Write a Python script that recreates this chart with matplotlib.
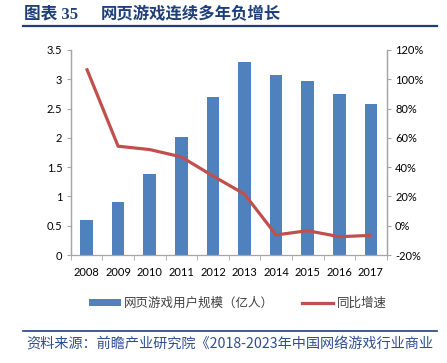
import matplotlib
matplotlib.use("Agg")
import matplotlib.pyplot as plt
import numpy as np
from matplotlib.lines import Line2D
from matplotlib.patches import Patch

years = ["2008", "2009", "2010", "2011", "2012", "2013", "2014", "2015", "2016", "2017"]
users = [0.59, 0.90, 1.38, 2.02, 2.70, 3.29, 3.07, 2.97, 2.75, 2.57]
growth = [107.5, 54.3, 52.0, 47.0, 34.0, 21.6, -6.3, -3.4, -7.5, -6.6]
left_ticks = [0, 0.5, 1, 1.5, 2, 2.5, 3, 3.5]
left_labels = ["0", "0.5", "1", "1.5", "2", "2.5", "3", "3.5"]
right_ticks = [-20, 0, 20, 40, 60, 80, 100, 120]
right_labels = ["-20%", "0%", "20%", "40%", "60%", "80%", "100%", "120%"]
title_num = "图表 35"
title_text = "网页游戏连续多年负增长"
legend_bar = "网页游戏用户规模（亿人）"
legend_line = "同比增速"
source = "资料来源：前瞻产业研究院《2018-2023年中国网络游戏行业商业"

CJK = ["Noto Sans CJK SC", "DejaVu Sans"]
tick_font = ["Lato", "DejaVu Sans"]
bar_color = "#4F81BD"
line_color = "#C0504D"
axis_color = "#A6A6A6"
navy = "#1F3F7A"

W, H = 447, 363
fig = plt.figure(figsize=(W / 100, H / 100), dpi=100)
ax = fig.add_axes([70.7 / W, 1 - 255 / H, (386.7 - 70.7) / W, (255 - 50) / H])
ax2 = ax.twinx()

x = np.arange(len(years))
ax.bar(x, users, width=0.4, color=bar_color, zorder=2)
ax.set_xlim(-0.5, len(years) - 0.5)
ax.set_ylim(0, 3.5)
ax.set_yticks(left_ticks)
ax.set_yticklabels(left_labels, fontfamily=tick_font, fontsize=8)
ax.set_xticks(x)
ax.set_xticklabels(years, fontfamily=tick_font, fontsize=8)
ax.set_xticks(np.arange(len(years) + 1) - 0.5, minor=True)
ax.tick_params(axis="x", which="major", length=0, pad=9)
ax.tick_params(axis="x", which="minor", length=3.5, color=axis_color, direction="out")
ax.tick_params(axis="y", length=3, color=axis_color, pad=3)

ax2.plot(x, growth, color=line_color, lw=2.3, zorder=3, solid_capstyle="butt")
ax2.set_ylim(-20, 120)
ax2.set_yticks(right_ticks)
ax2.set_yticklabels(right_labels, fontfamily=tick_font, fontsize=8)
ax2.tick_params(axis="y", length=3, color=axis_color, pad=3)

for a in (ax, ax2):
    a.spines["top"].set_visible(False)
    for s in ("left", "right", "bottom"):
        a.spines[s].set_color(axis_color)
        a.spines[s].set_linewidth(0.9)
    a.patch.set_visible(False)
ax2.spines["bottom"].set_visible(False)

# Title and rules
fig.text(24 / W, 1 - 14 / H, title_num, fontfamily=["Liberation Serif", "Noto Sans CJK SC"],
         fontweight="bold", fontsize=12, color=navy, va="center", ha="left")
fig.text(101 / W, 1 - 14 / H, title_text, fontfamily=CJK, fontweight="bold",
         fontsize=11.8, color=navy, va="center", ha="left")
fig.add_artist(Line2D([23 / W, 437 / W], [1 - 26 / H, 1 - 26 / H], color=navy, lw=1.6))
fig.add_artist(Line2D([23 / W, 437 / W], [1 - 330.7 / H, 1 - 330.7 / H], color=navy, lw=1.2))

# Legend
handles = [Patch(facecolor=bar_color), Line2D([0], [0], color=line_color, lw=2.3)]
leg = fig.legend(handles, [legend_bar, legend_line], loc="center",
                 bbox_to_anchor=(238 / W, 1 - 303 / H), ncol=2, frameon=False,
                 prop={"family": CJK, "size": 9}, handlelength=2.5, handleheight=0.5,
                 handletextpad=0.3, columnspacing=2.2)
for t in leg.get_texts():
    t.set_color("#404040")

fig.text(26 / W, 1 - 344 / H, source, fontfamily=CJK, fontsize=10.2,
         color="#2E4F8F", va="center", ha="left")

fig.savefig("out.png", dpi=100)
